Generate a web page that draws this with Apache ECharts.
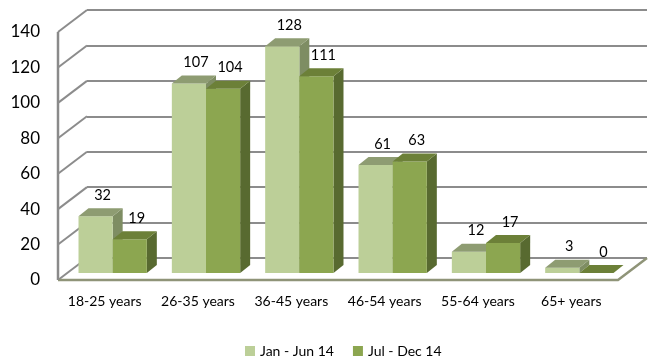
<!DOCTYPE html>
<html><head><meta charset="utf-8">
<script src="https://cdn.jsdelivr.net/npm/echarts@6/dist/echarts.min.js"></script>
<style>html,body{margin:0;padding:0;background:#fff}#c{width:652px;height:360px}</style>
</head><body><div id="c"></div>
<script>
const categories = ['18-25 years','26-35 years','36-45 years','46-54 years','55-64 years','65+ years'];
const seriesNames = ['Jan - Jun 14','Jul - Dec 14'];
const janJun = [32,107,128,61,12,3];
const julDec = [19,104,111,63,17,0];
const yTicks = [0,20,40,60,80,100,120,140];

const FONT = 'Lato';
const faceColors = [
  {front:'#BCCF98', top:'#8E9C72', side:'#7E8D63'},
  {front:'#8CA650', top:'#6C8038', side:'#586A30'}
];
const BAR_DEPTH = [10,-8];
const WALL_DEPTH = [29,-22];
const GRID_LINE = '#8c8c8c';

function barRender(sIdx){
  return function(params, api){
    const cat = api.value(0), val = api.value(1);
    const top = api.coord([cat,val]);
    const base = api.coord([cat,0]);
    const band = api.size([1,0])[0];
    const w = band*0.366;
    const x0 = sIdx===0 ? top[0]-w : top[0];
    const x1 = x0 + w;
    const yt = top[1], yb = base[1];
    const dx = BAR_DEPTH[0], dy = BAR_DEPTH[1];
    const c = faceColors[sIdx];
    return {type:'group', children:[
      {type:'polygon', shape:{points:[[x1,yb],[x1,yt],[x1+dx,yt+dy],[x1+dx,yb+dy]]}, style:{fill:c.side}},
      {type:'rect', shape:{x:x0,y:yt,width:w,height:yb-yt}, style:{fill:c.front}},
      {type:'polygon', shape:{points:[[x0,yt],[x1,yt],[x1+dx,yt+dy],[x0+dx,yt+dy]]}, style:{fill:c.top}},
      {type:'text', style:{text:String(val), x:(x0+x1)/2+7, y:yt-21, align:'center', verticalAlign:'middle', font:'14.5px Lato', fill:'#000'}}
    ]};
  };
}

function wallRender(params, api){
  const t = api.value(1);
  const p = api.coord([0,t]);
  const cs = params.coordSys;
  const x = cs.x, y = p[1];
  const dx = WALL_DEPTH[0], dy = WALL_DEPTH[1];
  const children = [
    {type:'line', shape:{x1:x,y1:y,x2:x+dx,y2:y+dy}, style:{stroke:GRID_LINE, lineWidth:2}}
  ];
  if (t === 0) {
    children.push({type:'polyline', shape:{points:[[x,y],[x+cs.width,y],[x+cs.width+dx,y+dy]]}, style:{stroke:'#8f9478', lineWidth:2.5, fill:null}});
    children.push({type:'line', shape:{x1:x,y1:cs.y,x2:x,y2:y}, style:{stroke:'#8a8a8a', lineWidth:2.5}});
  }
  return {type:'group', children};
}

const chart = echarts.init(document.getElementById('c'), null, {renderer:'canvas'});
const hiddenCat = (gi) => ({type:'category', data:categories, gridIndex:gi, show:false});
const hiddenVal = (gi) => ({type:'value', min:0, max:140, interval:20, gridIndex:gi, show:false});

chart.setOption({
  animation:false,
  backgroundColor:'#fff',
  textStyle:{fontFamily:FONT},
  grid:[
    {left:66, top:25, width:560, height:248},
    {left:58, top:32, width:560, height:248},
    {left:87, top:10, width:560, height:248}
  ],
  xAxis:[
    hiddenCat(0),
    {type:'category', data:categories, gridIndex:1,
      axisLine:{show:false}, axisTick:{show:false},
      axisLabel:{margin:14, fontSize:14, color:'#000', fontFamily:FONT, interval:0}},
    hiddenCat(2)
  ],
  yAxis:[
    hiddenVal(0),
    {type:'value', min:0, max:140, interval:20, gridIndex:1,
      axisLine:{show:false}, axisTick:{show:false}, splitLine:{show:false},
      axisLabel:{margin:18, fontSize:17, color:'#000', fontFamily:FONT}},
    {type:'value', min:0, max:140, interval:20, gridIndex:2,
      axisLine:{show:false}, axisTick:{show:false}, axisLabel:{show:false},
      splitLine:{show:true, lineStyle:{color:GRID_LINE, width:2}}}
  ],
  legend:{data:seriesNames, left:240, top:339, icon:'rect', itemWidth:10, itemHeight:10, itemGap:19,
    textStyle:{fontFamily:FONT, fontSize:14, color:'#000'}},
  series:[
    {type:'custom', name:'walls', xAxisIndex:1, yAxisIndex:1, z:1, silent:true,
      renderItem:wallRender, data:yTicks.map(t=>[0,t])},
    {type:'custom', name:seriesNames[0], xAxisIndex:0, yAxisIndex:0, z:3,
      itemStyle:{color:faceColors[0].front},
      renderItem:barRender(0), data:janJun.map((v,i)=>[i,v])},
    {type:'custom', name:seriesNames[1], xAxisIndex:0, yAxisIndex:0, z:4,
      itemStyle:{color:faceColors[1].front},
      renderItem:barRender(1), data:julDec.map((v,i)=>[i,v])}
  ]
});
</script>
</body></html>
